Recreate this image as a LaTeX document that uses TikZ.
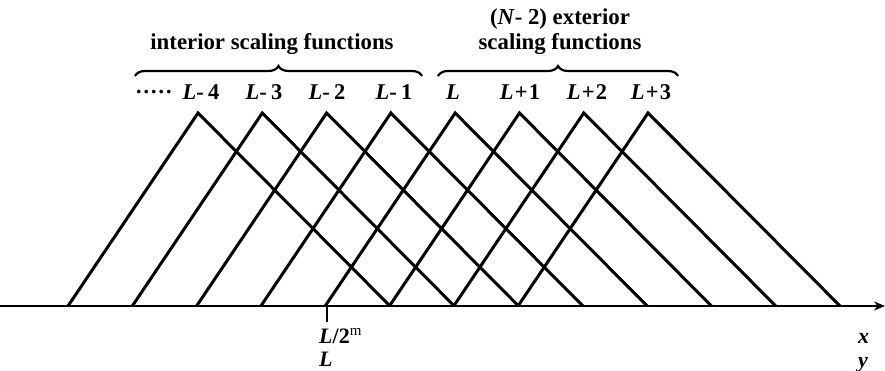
\documentclass[tikz,border=0pt]{standalone}
\usepackage{fontspec}
\setmainfont{Liberation Serif}
\usetikzlibrary{decorations.pathreplacing,arrows.meta}
\begin{document}
\begin{tikzpicture}[x=1pt,y=-1pt,
  tri/.style={line width=3pt, line join=miter},
  axisline/.style={line width=2.6pt, -{Stealth[length=11pt,width=9pt]}},
  bracestyle/.style={line width=2.2pt, decorate, decoration={brace, amplitude=10pt}},
  lab/.style={anchor=base, inner sep=0pt, font=\fontsize{22.8}{26}\selectfont\bfseries},
  idx/.style={anchor=base, inner sep=0pt, font=\fontsize{22.5}{26}\selectfont\bfseries},
  axlab/.style={anchor=base west, inner sep=0pt, font=\fontsize{22}{26}\selectfont\bfseries}]
\useasboundingbox (0,0) rectangle (885,371);
\foreach \i in {0,...,7} {
  \coordinate (p\i) at ({198+64.29*\i},113);
  \coordinate (l\i) at ({68+64.29*\i},306);
  \coordinate (r\i) at ({390+64.29*\i},306);
  \draw[tri] (l\i) -- (p\i) -- (r\i);
}
\coordinate (a0) at (0,306);
\coordinate (a1) at (885,306);
\draw[axisline] (a0) -- (a1);
\coordinate (t0) at (327,306);
\coordinate (t1) at (327,322);
\draw[line width=2.6pt] (t0) -- (t1);
% braces
\coordinate (b1s) at (135,76);
\coordinate (b1e) at (422,76);
\coordinate (b2s) at (438,76);
\coordinate (b2e) at (678,76);
\draw[bracestyle] (b1s) -- (b1e);
\draw[bracestyle] (b2s) -- (b2e);
% titles
\node[lab] (title1) at (272,50) {interior scaling functions};
\node[lab] (title2) at (560,25) {(\textit{N}- 2) exterior};
\node[lab] (title3) at (560,50) {scaling functions};
% indices
\node[idx] (dots) at (154,100) {·····};
\node[idx] (i4) at (201,100) {\textit{L}-\hspace{0.2em}4};
\node[idx] (i3) at (264,100) {\textit{L}-\hspace{0.2em}3};
\node[idx] (i2) at (327,100) {\textit{L}-\hspace{0.2em}2};
\node[idx] (i1) at (394,100) {\textit{L}-\hspace{0.2em}1};
\node[idx] (e0) at (453,100) {\textit{L}};
\node[idx] (e1) at (520,100) {\textit{L}\hspace{0.05em}+\hspace{0.05em}1};
\node[idx] (e2) at (587,100) {\textit{L}\hspace{0.05em}+\hspace{0.05em}2};
\node[idx] (e3) at (651,100) {\textit{L}\hspace{0.05em}+\hspace{0.05em}3};
% axis labels
\node[axlab] (m1) at (319,343) {\textit{L}/2\raisebox{8pt}{\fontsize{15}{16}\selectfont\mdseries m}};
\node[axlab] (m2) at (319,366) {\textit{L}};
\node[axlab] (xl) at (858,343) {\textit{x}};
\node[axlab] (yl) at (858,367) {\textit{y}};
\end{tikzpicture}
\end{document}
